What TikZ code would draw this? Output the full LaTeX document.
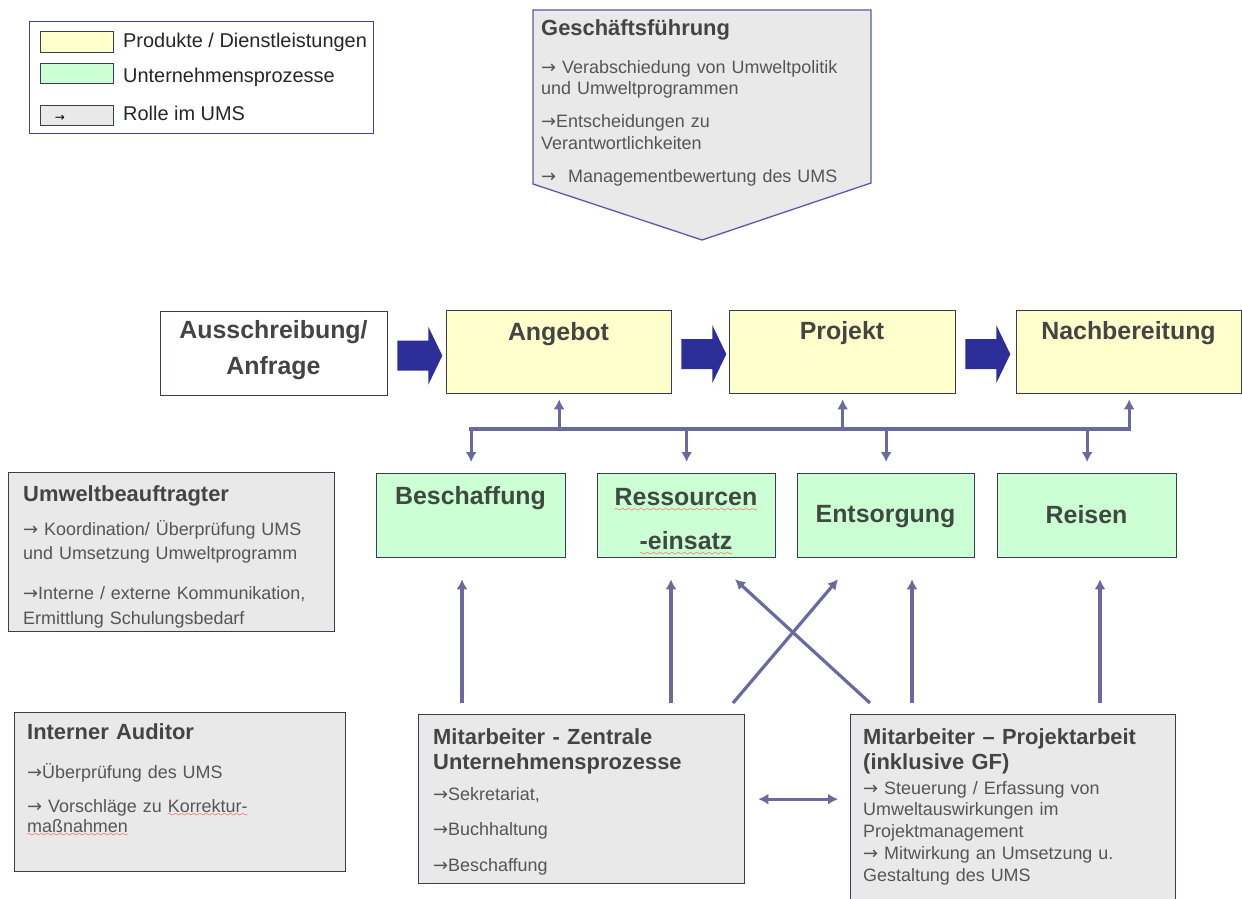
\documentclass[tikz,border=0pt]{standalone}
\usepackage{fontspec}
\setmainfont{Liberation Sans}
\newfontfamily\arrfont{DejaVu Sans}
\usetikzlibrary{arrows.meta,calc}
\definecolor{yel}{HTML}{FFFFCC}
\definecolor{grn}{HTML}{CCFFD4}
\definecolor{gry}{HTML}{E9E9E9}
\definecolor{brd}{HTML}{34404E}
\definecolor{conc}{HTML}{6A6A9E}
\definecolor{navy}{HTML}{2E2E99}
\definecolor{ttl}{HTML}{444444}
\definecolor{gtx}{HTML}{3E4A40}
\definecolor{bod}{HTML}{555555}
\definecolor{gfb}{HTML}{5A5AAA}
\definecolor{legb}{HTML}{45458A}
\font\wavefnt=lasy6 scaled 1200
\newcommand\ra{{\arrfont →}}
\newcommand\rwave[2][4pt]{\leavevmode\setbox0\hbox{#2}\rlap{\textcolor{red}{\lower#1\hbox to \wd0{\xleaders\hbox{\wavefnt\char58}\hfil}}}\box0}
\tikzset{
  box/.style={draw=brd, line width=1.3bp, inner sep=0pt, anchor=north west},
  ybox/.style={box, fill=yel},
  gbox/.style={box, fill=grn},
  rbox/.style={box, fill=gry},
  wbox/.style={box, fill=white},
  big/.style={font=\fontsize{25}{36}\selectfont\bfseries, text=gtx, inner sep=0pt, align=center, anchor=center},
  ttl/.style={font=\fontsize{22}{26}\selectfont\bfseries, text=ttl, inner sep=0pt, anchor=base west, align=left, text width=320bp},
  body/.style={font=\fontsize{18}{25}\selectfont, text=bod, inner sep=0pt, anchor=base west, align=left, text width=320bp},
  legtxt/.style={font=\fontsize{20}{24}\selectfont, text=black!85, inner sep=0pt, anchor=west},
  conn/.style={draw=conc, line width=3.2bp, -{Latex[length=10bp,width=11bp]}},
  busline/.style={draw=conc, line width=4bp, line cap=rect},
  bigarr/.style={fill=navy},
}
\newcommand\blockarr[1]{\fill[bigarr, shift={(#1.east)}] (9,-13) -- (40,-13) -- (40,-27) -- (54,2) -- (40,31) -- (40,17) -- (9,17) -- cycle;}
\begin{document}
\begin{tikzpicture}[x=1bp,y=-1bp]
\useasboundingbox (0,0) rectangle (1242,899);
\fill[white] (0,0) rectangle (1242,899);

% legend
\node[draw=legb, line width=1.3bp, minimum width=344bp, minimum height=112bp, inner sep=0pt, anchor=north west] (legend) at (29,21) {};
\node[ybox, minimum width=73bp, minimum height=21bp] (lgy) at (40,31) {};
\node[gbox, minimum width=73bp, minimum height=20bp] (lgg) at (40,63) {};
\node[rbox, minimum width=73bp, minimum height=20bp] (lgr) at (40,105) {};
\node[font=\fontsize{12}{12}\selectfont, inner sep=0pt] (lga) at (60,118) {\ra};
\node[legtxt] (lty) at (123,42) {Produkte / Dienstleistungen};
\node[legtxt] (ltg) at (123,77) {Unternehmensprozesse};
\node[legtxt] (ltr) at (123,113) {Rolle im UMS};

% Geschaeftsfuehrung
\filldraw[fill=gry, draw=gfb, line width=1.3bp] (533,10) -- (871,10) -- (871,183) -- (702,240) -- (533,184) -- cycle;
\node[ttl] (gft) at (541,35) {Geschäftsführung};
\node[body, font=\fontsize{18}{21.5}\selectfont] (gfb) at (541,73) {\ra\ Verabschiedung von Umweltpolitik\\ und Umweltprogrammen\\[12bp] \ra Entscheidungen zu\\ Verantwortlichkeiten\\[12bp] \ra\ \ Managementbewertung des UMS};

% top row
\node[wbox, minimum width=227bp, minimum height=84bp] (aus) at (160,311) {};
\node[ybox, minimum width=225bp, minimum height=83bp] (ang) at (446,310) {};
\node[ybox, minimum width=226bp, minimum height=83bp] (proj) at (729,310) {};
\node[ybox, minimum width=225bp, minimum height=83bp] (nach) at (1016,310) {};
\node[big, text=ttl] (aust) at (273.5,350) {Ausschreibung/\\Anfrage};
\node[big, text=ttl] (angt) at (558.5,334) {Angebot};
\node[big, text=ttl] (projt) at (842,333) {Projekt};
\node[big, text=ttl] (nacht) at (1128.5,333) {Nachbereitung};
\blockarr{aus}
\blockarr{ang}
\blockarr{proj}

% green row
\node[gbox, minimum width=189bp, minimum height=84bp] (besch) at (376,473) {};
\node[gbox, minimum width=178bp, minimum height=84bp] (res) at (597,473) {};
\node[gbox, minimum width=177bp, minimum height=84bp] (ent) at (797,473) {};
\node[gbox, minimum width=179bp, minimum height=84bp] (reis) at (997,473) {};
\node[big, font=\fontsize{25}{44}\selectfont\bfseries] (bescht) at (470.5,498) {Beschaffung};
\node[big, font=\fontsize{25}{44}\selectfont\bfseries] (rest) at (686,522) {\rwave[6pt]{Ressourcen}\\\rwave[6pt]{-einsatz}};
\node[big] (entt) at (885.5,517) {Entsorgung};
\node[big] (reist) at (1086.5,515) {Reisen};

% bus
\coordinate (bus) at (0,429);
\draw[busline] (besch.north |- bus) -- (nach.south |- bus);
\foreach \n in {besch,res,ent,reis} \draw[conn, shorten >=11bp] (\n.north |- bus) -- (\n.north);
\foreach \n in {ang,proj,nach} \draw[conn, shorten >=5bp] (\n.south |- bus) -- (\n.south);

% role boxes
\node[rbox, minimum width=326bp, minimum height=159bp] (ub) at (8,472) {};
\node[ttl] (ubt) at (23,501) {Umweltbeauftragter};
\node[body] (ubb) at (23,535) {\ra\ Koordination/ Überprüfung UMS\\ und Umsetzung Umweltprogramm\\[15bp] \ra Interne / externe Kommunikation,\\ Ermittlung Schulungsbedarf};

\node[rbox, minimum width=331bp, minimum height=159bp] (ia) at (14,712) {};
\node[ttl] (iat) at (27,739) {Interner Auditor};
\node[body, font=\fontsize{18}{20}\selectfont] (iab) at (27,778) {\ra Überprüfung des UMS\\[15bp] \ra\ Vorschläge zu \rwave[4pt]{Korrektur-}\\ \rwave[4pt]{maßnahmen}};

\node[rbox, minimum width=326bp, minimum height=169bp] (mz) at (418,714) {};
\node[ttl] (mzt) at (433,744) {Mitarbeiter - Zentrale\\Unternehmensprozesse};
\node[body, font=\fontsize{18}{36}\selectfont] (mzb) at (433,800) {\ra Sekretariat,\\ \ra Buchhaltung\\ \ra Beschaffung};

\node[rbox, minimum width=325bp, minimum height=190bp] (mp) at (850,714) {};
\node[ttl] (mpt) at (863,744) {Mitarbeiter – Projektarbeit\\(inklusive GF)};
\node[body, font=\fontsize{18}{22}\selectfont] (mpb) at (863,794) {\ra\ Steuerung / Erfassung von\\ Umweltauswirkungen im\\ Projektmanagement\\ \ra\ Mitwirkung an Umsetzung u.\\ Gestaltung des UMS};

% arrows from staff to processes
\draw[conn, shorten <=11bp, shorten >=21bp] ([xshift=44bp]mz.north west) -- ([xshift=44bp]mz.north west |- besch.south);
\draw[conn, shorten <=11bp, shorten >=21bp] ([xshift=253bp]mz.north west) -- ([xshift=253bp]mz.north west |- res.south);
\draw[conn] ([xshift=315bp,yshift=11bp]mz.north west) -- ([xshift=41bp,yshift=-21bp]ent.south west);
\draw[conn] ([xshift=20bp,yshift=11bp]mp.north west) -- ([xshift=138bp,yshift=-21bp]res.south west);
\draw[conn, shorten <=11bp, shorten >=21bp] ([xshift=62bp]mp.north west) -- ([xshift=62bp]mp.north west |- ent.south);
\draw[conn, shorten <=11bp, shorten >=21bp] ([xshift=250bp]mp.north west) -- ([xshift=250bp]mp.north west |- reis.south);
\draw[conn, {Latex[length=10bp,width=11bp]}-{Latex[length=10bp,width=11bp]}, shorten <=13bp, shorten >=12bp] (mz.east) -- (mz.east -| mp.west);
\end{tikzpicture}
\end{document}
